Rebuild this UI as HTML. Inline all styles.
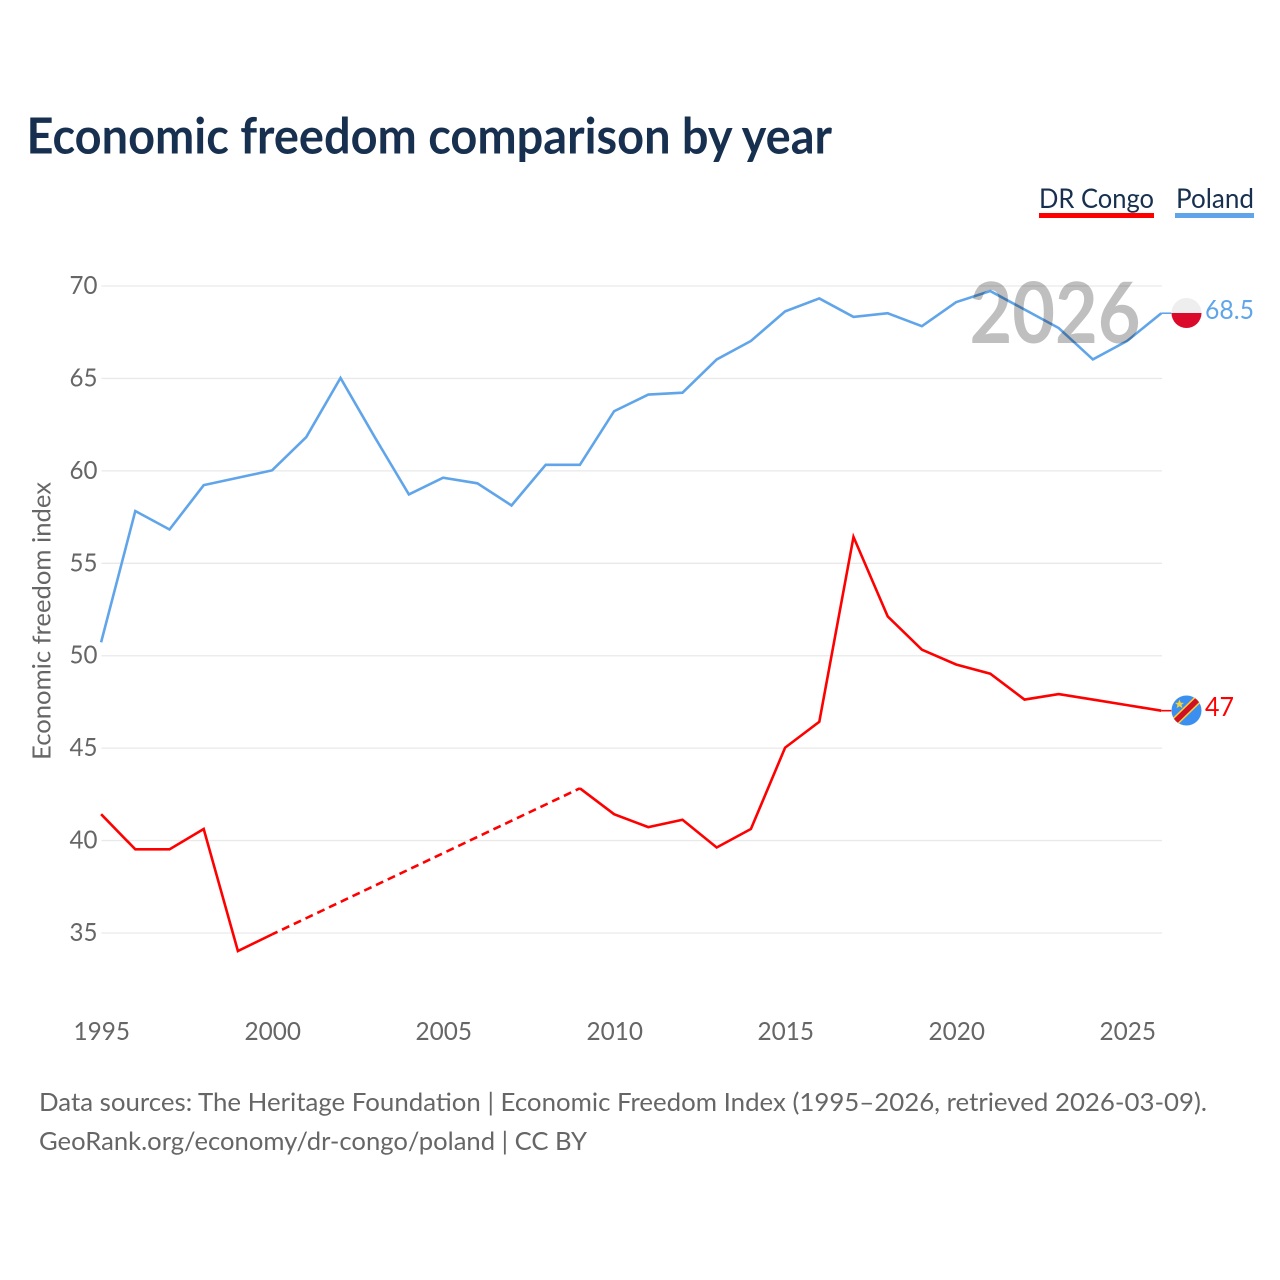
<!DOCTYPE html>
<html lang="en">
<head>
<meta charset="utf-8">
<title>Economic freedom comparison by year</title>
<style>
html,body{margin:0;padding:0;background:#fff;width:1280px;height:1280px;overflow:hidden}
svg{display:block;font-family:"Lato","Carlito","Liberation Sans",sans-serif}
.tick{font-size:25.5px;fill:#666}
.foot{font-size:25px;fill:#666}
</style>
</head>
<body>
<svg id="chart" width="1280" height="1280" viewBox="0 0 1280 1280" xmlns="http://www.w3.org/2000/svg">
  <text x="26.5" y="153.5" font-size="49.5" font-weight="700" fill="#18304f" textLength="805.5" lengthAdjust="spacingAndGlyphs">Economic freedom comparison by year</text>

  <g>
    <text x="1039" y="208" font-size="27.5" fill="#18304f" textLength="115" lengthAdjust="spacingAndGlyphs">DR Congo</text>
    <rect x="1039" y="213" width="115" height="5" fill="#ff0000"/>
  </g>
  <g>
    <text x="1176" y="208" font-size="27.5" fill="#18304f" textLength="78" lengthAdjust="spacingAndGlyphs">Poland</text>
    <rect x="1175" y="213" width="79" height="5" fill="#60a5ea"/>
  </g>

  <text transform="translate(50.5,621) rotate(-90)" text-anchor="middle" font-size="25" fill="#666" textLength="278" lengthAdjust="spacingAndGlyphs">Economic freedom index</text>

  <g id="grid"></g>
  <g id="yticks"></g>
  <g id="xticks"></g>
  <g id="series" transform="translate(-0.4,-0.5)"></g>

  <text id="year-watermark" x="969.5" y="343" font-size="84" font-weight="700" fill="#000" fill-opacity="0.25" textLength="171" lengthAdjust="spacingAndGlyphs">2026</text>

  <defs>
    <clipPath id="clip-pl"><circle id="clip-pl-circle" cx="1186.5" cy="313" r="15"/></clipPath>
    <clipPath id="clip-cd"><circle id="clip-cd-circle" cx="1186.5" cy="710.5" r="15"/></clipPath>
  </defs>

  <g id="flag-pl" clip-path="url(#clip-pl)">
    <rect x="1171" y="297" width="32" height="16" fill="#eeeeee"/>
    <rect x="1171" y="313" width="32" height="17" fill="#dc0a2a"/>
  </g>
  <g id="flag-cd" clip-path="url(#clip-cd)">
    <rect x="1171" y="694" width="32" height="33" fill="#3a8ff0"/>
    <line x1="1170" y1="726.5" x2="1203" y2="694.5" stroke="#f7d038" stroke-width="8.5"/>
    <line x1="1170" y1="726.5" x2="1203" y2="694.5" stroke="#ce1126" stroke-width="5.5"/>
    <polygon points="1179.5,699.5 1180.8,702.7 1184,702.9 1181.5,704.9 1182.4,708.1 1179.5,706.3 1176.6,708.1 1177.5,704.9 1175,702.9 1178.2,702.7" fill="#f7d038"/>
  </g>

  <text id="end-label-poland" x="1205" y="319" font-size="26" fill="#60a5ea" textLength="49" lengthAdjust="spacingAndGlyphs">68.5</text>
  <text id="end-label-congo" x="1205" y="716" font-size="26" fill="#ff0000" textLength="29" lengthAdjust="spacingAndGlyphs">47</text>

  <text class="foot" x="39" y="1111" textLength="1168" lengthAdjust="spacingAndGlyphs">Data sources: The Heritage Foundation | Economic Freedom Index (1995–2026, retrieved 2026-03-09).</text>
  <text class="foot" x="39" y="1150" textLength="548" lengthAdjust="spacingAndGlyphs">GeoRank.org/economy/dr-congo/poland | CC BY</text>
</svg>
<script>
const years = [1995,1996,1997,1998,1999,2000,2001,2002,2003,2004,2005,2006,2007,2008,2009,2010,2011,2012,2013,2014,2015,2016,2017,2018,2019,2020,2021,2022,2023,2024,2025,2026];
const polandValues = [50.7,57.8,56.8,59.2,59.6,60.0,61.8,65.0,61.8,58.7,59.6,59.3,58.1,60.3,60.3,63.2,64.1,64.2,66.0,67.0,68.6,69.3,68.3,68.5,67.8,69.1,69.7,68.7,67.7,66.0,67.0,68.5];
const congoValues = [41.4,39.5,39.5,40.6,34.0,34.9,null,null,null,null,null,null,null,null,42.8,41.4,40.7,41.1,39.6,40.6,45.0,46.4,56.4,52.1,50.3,49.5,49.0,47.6,47.9,47.6,47.3,47.0];
const yTickValues = [35,40,45,50,55,60,65,70];
const xTickValues = [1995,2000,2005,2010,2015,2020,2025];

const NS = 'http://www.w3.org/2000/svg';
const xScale = function (year) { return 101.5 + (year - 1995) * 34.2; };
const yScale = function (value) { return 286 + (70 - value) * 18.486; };

function make(tag, parent, attrs) {
  const el = document.createElementNS(NS, tag);
  Object.keys(attrs).forEach(function (k) { el.setAttribute(k, attrs[k]); });
  parent.appendChild(el);
  return el;
}

const grid = document.getElementById('grid');
const yticks = document.getElementById('yticks');
const xticks = document.getElementById('xticks');
const series = document.getElementById('series');

yTickValues.forEach(function (v) {
  const line = make('line', grid, { x1: 101.5, x2: 1162, y1: yScale(v), y2: yScale(v), stroke: '#e9e9e9', 'stroke-width': 1.3 });
  
  
  const t = make('text', yticks, { x: 69.5, y: yScale(v) + 8, class: 'tick', textLength: 28, lengthAdjust: 'spacingAndGlyphs' });
  
  
  t.textContent = v;
});

xTickValues.forEach(function (y) {
  const t = make('text', xticks, { x: xScale(y) - 28, y: 1040, class: 'tick', textLength: 56.5, lengthAdjust: 'spacingAndGlyphs' });
  
  
  t.textContent = y;
});

function drawSeries(values, color, key) {
  let segment = [];
  let lastPoint = null;
  const flush = function () {
    if (segment.length > 1) {
      const solid = make('polyline', series, { points: segment.join(' '), fill: 'none', stroke: color, 'stroke-width': 2.6, 'stroke-linejoin': 'miter' });
      
      
    }
    segment = [];
  };
  values.forEach(function (v, i) {
    if (v === null) { flush(); return; }
    const p = [xScale(years[i]), yScale(v)];
    if (segment.length === 0 && lastPoint && i - lastPoint.i > 1) {
      const gap = make('line', series, { x1: lastPoint.p[0], y1: lastPoint.p[1], x2: p[0], y2: p[1], stroke: color, 'stroke-width': 2.6, 'stroke-dasharray': '8 5', 'stroke-dashoffset': 2 });
      
      
    }
    segment.push(p.join(','));
    lastPoint = { i: i, p: p };
  });
  flush();
  const stub = make('line', series, { x1: lastPoint.p[0], y1: lastPoint.p[1], x2: lastPoint.p[0] + 10, y2: lastPoint.p[1], stroke: color, 'stroke-width': 1.6 });
  
  
}

drawSeries(polandValues, '#60a5ea', 'poland');
drawSeries(congoValues, '#ff0000', 'dr-congo');
</script>
</body>
</html>
